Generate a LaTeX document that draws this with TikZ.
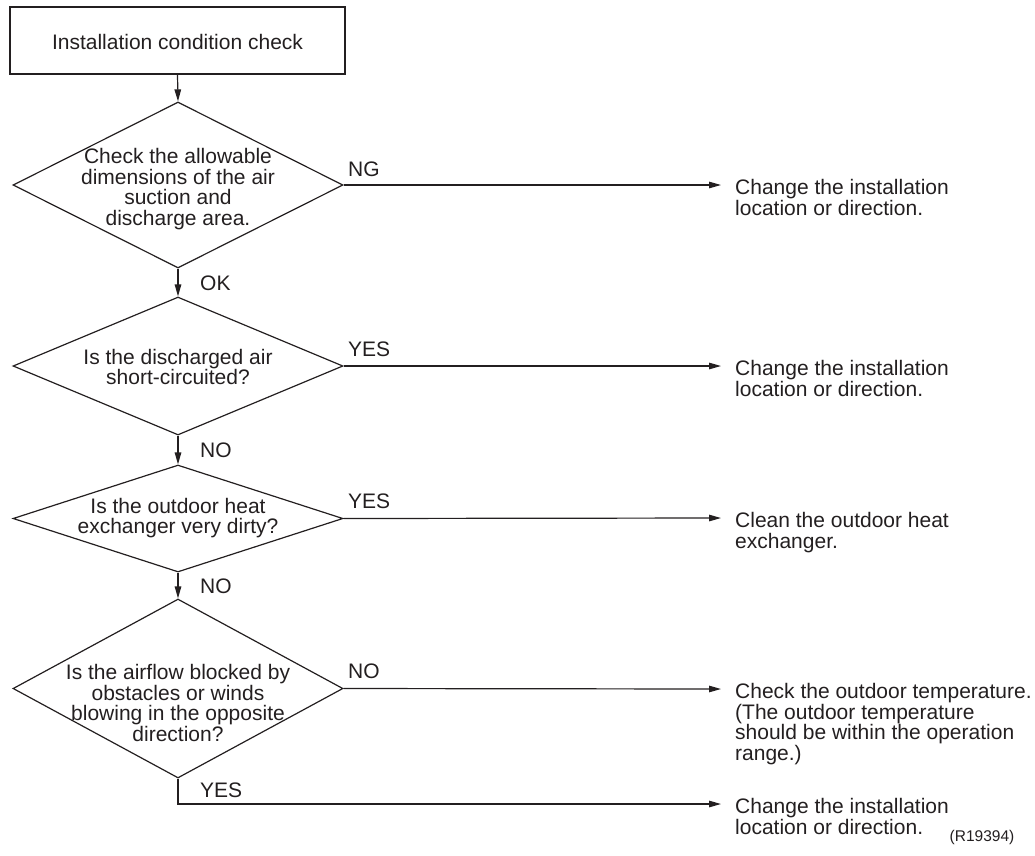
\documentclass[tikz,border=0pt]{standalone}
\usepackage{fontspec}
\setmainfont{Liberation Sans}
\usetikzlibrary{shapes.geometric,arrows.meta}
\definecolor{ink}{RGB}{35,31,32}
\begin{document}
\begin{tikzpicture}[x=1pt,y=-1pt,
  every node/.style={text=ink},
  lbl/.style={font=\fontsize{21}{20.5}\selectfont, inner sep=0pt},
  dtext/.style={lbl, align=center},
  rtext/.style={lbl, align=left, anchor=north west},
  dec/.style={draw=ink, line width=1.2pt, shape=diamond, inner sep=0pt, minimum width=330pt},
  conn/.style={draw=ink, line width=1.2pt, -{Triangle[length=12pt,width=6.5pt]}},
  plain/.style={draw=ink, line width=1.2pt}
]
\useasboundingbox (0,0) rectangle (1035,855);

% start box
\node[draw=ink, line width=1.2pt, minimum width=335pt, minimum height=67pt, inner sep=0pt] (box) at (177.5,40.5) {};
\node[lbl] (boxt) at (177.5,42) {Installation condition check};

% diamonds
\node[dec, minimum height=166pt] (d1) at (178,185) {};
\node[dec, minimum height=138pt] (d2) at (178,366) {};
\node[dec, minimum height=107pt] (d3) at (178,518.5) {};
\node[dec, minimum height=179pt] (d4) at (178,688.5) {};

\node[dtext] (t1) at (178,189) {Check the allowable\\dimensions of the air\\suction and\\discharge area.};
\node[dtext] (t2) at (178,367) {Is the discharged air\\short-circuited?};
\node[dtext] (t3) at (178,518) {Is the outdoor heat\\exchanger very dirty?};
\node[dtext] (t4) at (178,703) {Is the airflow blocked by\\obstacles or winds\\blowing in the opposite\\direction?};

% vertical connectors
\draw[conn] (box.south) -- (d1.north);
\draw[conn] (d1.south) -- (d2.north);
\draw[conn] (d2.south) -- (d3.north);
\draw[conn] (d3.south) -- (d4.north);

\node[lbl, anchor=base west] (ok) at (200,290) {OK};
\node[lbl, anchor=base west] (no1) at (200,457) {NO};
\node[lbl, anchor=base west] (no2) at (200,593) {NO};
\node[lbl, anchor=base west] (yes4) at (200,797) {YES};

% right-hand ends
\coordinate (e1) at (721,185);
\coordinate (e2) at (721,366);
\coordinate (e3) at (721,518);
\coordinate (e4) at (721,689);
\coordinate (e5) at (721,804);

\draw[conn] (d1.east) -- (e1);
\draw[conn] (d2.east) -- (e2);
\draw[conn] (d3.east) -- (e3);
\draw[conn] (d4.east) -- (e4);
\draw[conn] (d4.south) |- (e5);

\node[lbl, anchor=base west] (ng) at (348,176) {NG};
\node[lbl, anchor=base west] (y2) at (348,356) {YES};
\node[lbl, anchor=base west] (y3) at (348,508) {YES};
\node[lbl, anchor=base west] (n4) at (348,678) {NO};

\node[rtext] (r1) at (735,179.5) {Change the installation\\location or direction.};
\node[rtext] (r2) at (735,360.5) {Change the installation\\location or direction.};
\node[rtext] (r3) at (735,512.5) {Clean the outdoor heat\\exchanger.};
\node[rtext] (r4) at (735,683.5) {Check the outdoor temperature.\\(The outdoor temperature\\should be within the operation\\range.)};
\node[rtext] (r5) at (735,798.5) {Change the installation\\location or direction.};

\node[inner sep=0pt, font=\fontsize{15.5}{17}\selectfont] (ref) at (982,837) {(R19394)};
\end{tikzpicture}
\end{document}
